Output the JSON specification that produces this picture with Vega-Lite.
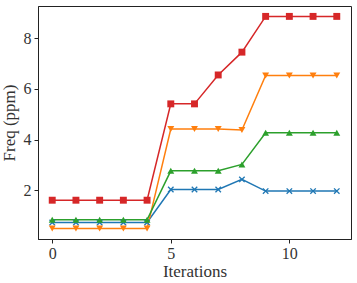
{
  "$schema": "https://vega.github.io/schema/vega-lite/v6.json",
  "autosize": "none",
  "width": 313,
  "height": 233,
  "padding": {"left": 38, "top": 6, "right": 6, "bottom": 44},
  "background": "white",
  "config": {
    "view": {"stroke": "#222", "strokeWidth": 1},
    "font": "Liberation Serif",
    "axis": {
      "grid": false,
      "domainColor": "#222",
      "tickColor": "#222",
      "tickSize": 4,
      "labelFont": "Liberation Serif",
      "titleFont": "Liberation Serif",
      "labelFontSize": 16,
      "titleFontSize": 17,
      "titleFontWeight": "normal",
      "labelColor": "#333",
      "titleColor": "#333"
    }
  },
  "data": {
    "values": [
      {"iter": 0, "freq": 0.73, "series": "a"},
      {"iter": 1, "freq": 0.73, "series": "a"},
      {"iter": 2, "freq": 0.73, "series": "a"},
      {"iter": 3, "freq": 0.73, "series": "a"},
      {"iter": 4, "freq": 0.73, "series": "a"},
      {"iter": 5, "freq": 2.03, "series": "a"},
      {"iter": 6, "freq": 2.03, "series": "a"},
      {"iter": 7, "freq": 2.03, "series": "a"},
      {"iter": 8, "freq": 2.43, "series": "a"},
      {"iter": 9, "freq": 1.97, "series": "a"},
      {"iter": 10, "freq": 1.97, "series": "a"},
      {"iter": 11, "freq": 1.97, "series": "a"},
      {"iter": 12, "freq": 1.97, "series": "a"},
      {"iter": 0, "freq": 0.49, "series": "b"},
      {"iter": 1, "freq": 0.49, "series": "b"},
      {"iter": 2, "freq": 0.49, "series": "b"},
      {"iter": 3, "freq": 0.49, "series": "b"},
      {"iter": 4, "freq": 0.49, "series": "b"},
      {"iter": 5, "freq": 4.42, "series": "b"},
      {"iter": 6, "freq": 4.42, "series": "b"},
      {"iter": 7, "freq": 4.42, "series": "b"},
      {"iter": 8, "freq": 4.38, "series": "b"},
      {"iter": 9, "freq": 6.53, "series": "b"},
      {"iter": 10, "freq": 6.53, "series": "b"},
      {"iter": 11, "freq": 6.53, "series": "b"},
      {"iter": 12, "freq": 6.53, "series": "b"},
      {"iter": 0, "freq": 0.84, "series": "c"},
      {"iter": 1, "freq": 0.84, "series": "c"},
      {"iter": 2, "freq": 0.84, "series": "c"},
      {"iter": 3, "freq": 0.84, "series": "c"},
      {"iter": 4, "freq": 0.84, "series": "c"},
      {"iter": 5, "freq": 2.77, "series": "c"},
      {"iter": 6, "freq": 2.77, "series": "c"},
      {"iter": 7, "freq": 2.77, "series": "c"},
      {"iter": 8, "freq": 3.02, "series": "c"},
      {"iter": 9, "freq": 4.27, "series": "c"},
      {"iter": 10, "freq": 4.27, "series": "c"},
      {"iter": 11, "freq": 4.27, "series": "c"},
      {"iter": 12, "freq": 4.27, "series": "c"},
      {"iter": 0, "freq": 1.61, "series": "d"},
      {"iter": 1, "freq": 1.61, "series": "d"},
      {"iter": 2, "freq": 1.61, "series": "d"},
      {"iter": 3, "freq": 1.61, "series": "d"},
      {"iter": 4, "freq": 1.61, "series": "d"},
      {"iter": 5, "freq": 5.41, "series": "d"},
      {"iter": 6, "freq": 5.41, "series": "d"},
      {"iter": 7, "freq": 6.55, "series": "d"},
      {"iter": 8, "freq": 7.45, "series": "d"},
      {"iter": 9, "freq": 8.86, "series": "d"},
      {"iter": 10, "freq": 8.86, "series": "d"},
      {"iter": 11, "freq": 8.86, "series": "d"},
      {"iter": 12, "freq": 8.86, "series": "d"}
    ]
  },
  "encoding": {
    "x": {
      "field": "iter", "type": "quantitative",
      "scale": {"domain": [-0.6, 12.6], "nice": false, "zero": false},
      "axis": {"values": [0, 5, 10], "title": "Iterations", "labelPadding": 2, "titlePadding": 2}
    },
    "y": {
      "field": "freq", "type": "quantitative",
      "scale": {"domain": [0.08, 9.27], "nice": false, "zero": false},
      "axis": {"values": [2, 4, 6, 8], "title": "Freq (ppm)", "labelPadding": 3, "titlePadding": 5}
    },
    "color": {
      "field": "series", "type": "nominal",
      "scale": {"domain": ["a", "b", "c", "d"], "range": ["#1f77b4", "#ff7f0e", "#2ca02c", "#d62728"]},
      "legend": null
    }
  },
  "layer": [
    {"mark": {"type": "line", "strokeWidth": 1.5}, "encoding": {"detail": {"field": "series"}}},
    {
      "transform": [{"filter": "datum.series === 'a'"}],
      "mark": {"type": "point", "filled": false, "shape": "M-1,-1L1,1M1,-1L-1,1", "size": 30, "strokeWidth": 1.3, "opacity": 1}
    },
    {
      "transform": [{"filter": "datum.series !== 'a'"}],
      "mark": {"type": "point", "filled": true, "size": 48, "opacity": 1},
      "encoding": {
        "shape": {
          "field": "series", "type": "nominal",
          "scale": {"domain": ["b", "c", "d"], "range": ["triangle-down", "triangle-up", "square"]},
          "legend": null
        }
      }
    }
  ]
}
